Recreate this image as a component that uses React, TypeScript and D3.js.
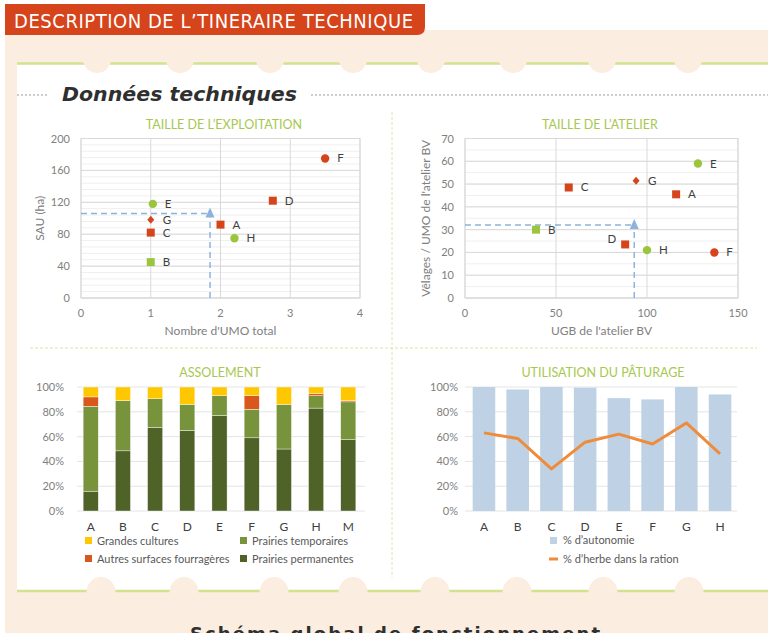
import React from 'react';
import * as d3 from 'd3';

// ---- data ----
const farms = ['A', 'B', 'C', 'D', 'E', 'F', 'G', 'H'];

// Taille de l'exploitation
const umoTotal = [2.0, 1.0, 1.0, 2.75, 1.03, 3.5, 1.0, 2.2];
const sauHa = [92, 45, 82, 122, 118, 175, 98, 75];
const exploitRef = [1.85, 106];

// Taille de l'atelier
const ugbAtelier = [116, 39, 57, 88, 128, 137, 94, 100];
const velagesUmo = [45.5, 30, 48.5, 23.5, 59, 20, 51.5, 21];
const atelierRef = [93, 32];

// Assolement (%)
const assolCats = ['A', 'B', 'C', 'D', 'E', 'F', 'G', 'H', 'M'];
const prairiesPermanentes = [16, 48.5, 67.5, 65, 77, 59, 50, 83, 57.5];
const prairiesTemporaires = [68.5, 40.5, 23, 21, 16, 23, 36, 10, 30.5];
const autresSurfaces = [7.5, 0, 0, 0, 0, 11, 0, 1.5, 1];
const grandesCultures = [8, 11, 9.5, 14, 7, 7, 14, 5.5, 11];

// Utilisation du pâturage (%)
const paturageCats = ['A', 'B', 'C', 'D', 'E', 'F', 'G', 'H'];
const autonomie = [100, 98, 100, 99.5, 91, 90, 100, 94];
const herbeRation = [63, 58.5, 34, 55.5, 62, 54, 71, 46];

const pctTicks = [0, 20, 40, 60, 80, 100];

// ---- styles ----
const RED = '#d6441b';
const GREEN = '#9bc53d';
const BEIGE = '#fbeee0';
const LINE_GREEN = '#d2e290';
const TITLE_GREEN = '#a7c84f';
const AXIS_TXT = '#808080';
const FONT = 'Lato, "Open Sans", sans-serif';

const markerStyle: Record<string, { shape: string; color: string }> = {
  A: { shape: 'square', color: RED },
  B: { shape: 'square', color: GREEN },
  C: { shape: 'square', color: RED },
  D: { shape: 'square', color: RED },
  E: { shape: 'circle', color: GREEN },
  F: { shape: 'circle', color: RED },
  G: { shape: 'diamond', color: RED },
  H: { shape: 'circle', color: GREEN },
};

const topBumps = [97, 180, 270, 353, 431, 513, 602, 688];
const bottomBumps = [101, 184, 274, 353, 435, 517, 603, 689];

function Marker({ shape, color, x, y }: { shape: string; color: string; x: number; y: number }) {
  if (shape === 'circle') return <circle cx={x} cy={y} r={4.2} fill={color} />;
  if (shape === 'diamond')
    return <path d={`M${x},${y - 4}L${x + 3.5},${y}L${x},${y + 4}L${x - 3.5},${y}Z`} fill={color} />;
  return <rect x={x - 4} y={y - 4} width={8} height={8} fill={color} />;
}

type ScatterProps = {
  title: string;
  titleX: number;
  xs: number[];
  ys: number[];
  xDomain: [number, number];
  yDomain: [number, number];
  xTicks: number[];
  yTicks: number[];
  minorStep: number;
  x0: number;
  x1: number;
  xLabel: string;
  yLabel: string;
  yLabelX: number;
  ref2: number[];
  leftLabels?: string[];
};

function Scatter(p: ScatterProps) {
  const x = d3.scaleLinear().domain(p.xDomain).range([p.x0, p.x1]);
  const y = d3.scaleLinear().domain(p.yDomain).range([298, 138.5]);
  const minor = d3.range(p.yDomain[0], p.yDomain[1] + 0.001, p.minorStep);
  const [rx, ry] = p.ref2;
  const arrowColor = '#8db3dc';
  return (
    <g fontFamily={FONT}>
      <text x={p.titleX} y={129} textAnchor="middle" fontSize={12.5} fill={TITLE_GREEN}>{p.title}</text>
      {minor.map((v) => (
        <line key={'m' + v} x1={p.x0} x2={p.x1} y1={y(v)} y2={y(v)} stroke="#efefef" />
      ))}
      {p.yTicks.map((v) => (
        <line key={'y' + v} x1={p.x0} x2={p.x1} y1={y(v)} y2={y(v)} stroke="#d9d9d9" />
      ))}
      {p.xTicks.map((v) => (
        <line key={'x' + v} x1={x(v)} x2={x(v)} y1={y(p.yDomain[0])} y2={y(p.yDomain[1])} stroke="#d9d9d9" />
      ))}
      <rect x={p.x0} y={y(p.yDomain[1])} width={p.x1 - p.x0} height={y(p.yDomain[0]) - y(p.yDomain[1])} fill="none" stroke="#d9d9d9" />
      {p.yTicks.map((v) => (
        <text key={'yt' + v} x={p.x0 - 11} y={y(v) + 4} textAnchor="end" fontSize={11} fill={AXIS_TXT}>{v}</text>
      ))}
      {p.xTicks.map((v) => (
        <text key={'xt' + v} x={x(v)} y={317} textAnchor="middle" fontSize={11} fill={AXIS_TXT}>{v}</text>
      ))}
      <text x={(p.x0 + p.x1) / 2} y={335} textAnchor="middle" fontSize={12} fill={AXIS_TXT}>{p.xLabel}</text>
      <text transform={`translate(${p.yLabelX},${(y(p.yDomain[0]) + y(p.yDomain[1])) / 2}) rotate(-90)`} textAnchor="middle" fontSize={12} fill={AXIS_TXT}>{p.yLabel}</text>
      {/* reference arrow */}
      <g stroke={arrowColor} strokeWidth={1.5} strokeDasharray="6,4" fill="none">
        <line x1={x(p.xDomain[0])} x2={x(rx)} y1={y(ry)} y2={y(ry)} />
        <line x1={x(rx)} x2={x(rx)} y1={y(p.yDomain[0])} y2={y(ry) + 4} />
      </g>
      <path d={`M${x(rx)},${y(ry) - 6}L${x(rx) + 4.5},${y(ry) + 4}L${x(rx) - 4.5},${y(ry) + 4}Z`} fill={arrowColor} />
      {farms.map((f, i) => {
        const s = markerStyle[f];
        const cx = x(p.xs[i]);
        const cy = y(p.ys[i]);
        const left = p.leftLabels && p.leftLabels.includes(f);
        return (
          <g key={f}>
            <Marker shape={s.shape} color={s.color} x={cx} y={cy} />
            <text x={left ? cx - 9 : cx + 12} y={left ? cy - 1 : cy + 4} textAnchor={left ? 'end' : 'start'} fontSize={11.5} fill="#404040">{f}</text>
          </g>
        );
      })}
    </g>
  );
}

function Assolement() {
  const x = d3.scaleBand().domain(assolCats).range([74.6, 364.4]).paddingInner(0.53).paddingOuter(0.265);
  const y = d3.scaleLinear().domain([0, 100]).range([511, 387]);
  const keys = ['perm', 'temp', 'autres', 'gc'];
  const rows = assolCats.map((c, i) => ({
    cat: c,
    perm: prairiesPermanentes[i],
    temp: prairiesTemporaires[i],
    autres: autresSurfaces[i],
    gc: grandesCultures[i],
  }));
  const series = d3.stack<any>().keys(keys)(rows);
  const colors: Record<string, string> = { perm: '#4f6228', temp: '#77933c', autres: '#d9571b', gc: '#ffc700' };
  const legend = [
    { label: 'Grandes cultures', color: colors.gc, x: 85, y: 541 },
    { label: 'Prairies temporaires', color: colors.temp, x: 240, y: 541 },
    { label: 'Autres surfaces fourragères', color: colors.autres, x: 85, y: 559 },
    { label: 'Prairies permanentes', color: colors.perm, x: 240, y: 559 },
  ];
  return (
    <g fontFamily={FONT}>
      <text x={220} y={377} textAnchor="middle" fontSize={12.5} fill={TITLE_GREEN}>ASSOLEMENT</text>
      {pctTicks.map((v) => (
        <g key={v}>
          <line x1={77} x2={365} y1={y(v)} y2={y(v)} stroke="#e4e4e4" />
          <text x={64} y={y(v) + 4} textAnchor="end" fontSize={11} fill={AXIS_TXT}>{v}%</text>
        </g>
      ))}
      {series.map((s) => (
        <g key={s.key} fill={colors[s.key]}>
          {s.map((d: any) => (
            <rect key={d.data.cat} x={x(d.data.cat)} width={x.bandwidth()} y={y(d[1])} height={Math.max(0, y(d[0]) - y(d[1]))} stroke="#fff" strokeWidth={0.4} />
          ))}
        </g>
      ))}
      {assolCats.map((c) => (
        <text key={c} x={(x(c) as number) + x.bandwidth() / 2} y={531} textAnchor="middle" fontSize={12} fill="#404040">{c}</text>
      ))}
      {legend.map((l) => (
        <g key={l.label}>
          <rect x={l.x} y={l.y - 4} width={7} height={7} fill={l.color} />
          <text x={l.x + 12} y={l.y + 3.5} fontSize={11} fill="#595959">{l.label}</text>
        </g>
      ))}
    </g>
  );
}

function Paturage() {
  const x = d3.scaleBand().domain(paturageCats).range([467.1, 736.9]).paddingInner(0.33).paddingOuter(0.165);
  const y = d3.scaleLinear().domain([0, 100]).range([511, 387]);
  const line = d3
    .line<number>()
    .x((_, i) => (x(paturageCats[i]) as number) + x.bandwidth() / 2)
    .y((d) => y(d));
  return (
    <g fontFamily={FONT}>
      <text x={603} y={377} textAnchor="middle" fontSize={12.5} fill={TITLE_GREEN}>UTILISATION DU PÂTURAGE</text>
      {pctTicks.map((v) => (
        <g key={v}>
          <line x1={465} x2={737} y1={y(v)} y2={y(v)} stroke="#e4e4e4" />
          <text x={458} y={y(v) + 4} textAnchor="end" fontSize={11} fill={AXIS_TXT}>{v}%</text>
        </g>
      ))}
      {paturageCats.map((c, i) => (
        <rect key={c} x={x(c)} width={x.bandwidth()} y={y(autonomie[i])} height={y(0) - y(autonomie[i])} fill="#bfd2e5" />
      ))}
      <path d={line(herbeRation) || ''} fill="none" stroke="#ee8c3b" strokeWidth={3} strokeLinejoin="round" />
      {paturageCats.map((c) => (
        <text key={c} x={(x(c) as number) + x.bandwidth() / 2} y={531} textAnchor="middle" fontSize={12} fill="#404040">{c}</text>
      ))}
      <rect x={550} y={537} width={7} height={7} fill="#bfd2e5" />
      <text x={563} y={544} fontSize={11} fill="#595959">% d’autonomie</text>
      <line x1={549} x2={558} y1={559} y2={559} stroke="#ee8c3b" strokeWidth={3} />
      <text x={563} y={562.5} fontSize={11} fill="#595959">% d’herbe dans la ration</text>
    </g>
  );
}

export default function App() {
  return (
    <svg width={768} height={633} viewBox="0 0 768 633" style={{ position: 'fixed', left: 0, top: 0, background: '#fff' }}>
      {/* background frame */}
      <rect x={5} y={30} width={763} height={603} fill={BEIGE} />
      <path d="M5,4H425V27Q425,35 417,35H5Z" fill={RED} />
      <text x={14} y={28} fontFamily='"Liberation Sans Narrow", "DejaVu Sans Condensed", sans-serif' fontSize={20} fill="#fff" textLength={399} lengthAdjust="spacing">
        DESCRIPTION DE L’TINERAIRE TECHNIQUE
      </text>
      <rect x={17} y={63} width={751} height={528} fill="#fff" />
      <line x1={17} x2={768} y1={63.5} y2={63.5} stroke={LINE_GREEN} strokeWidth={2.5} />
      <line x1={17} x2={768} y1={591} y2={591} stroke={LINE_GREEN} strokeWidth={2.5} />
      {topBumps.map((bx) => (
        <circle key={'t' + bx} cx={bx} cy={59} r={14} fill={BEIGE} />
      ))}
      {bottomBumps.map((bx) => (
        <ellipse key={'b' + bx} cx={bx} cy={592} rx={14.5} ry={15} fill={BEIGE} />
      ))}

      {/* section title */}
      <line x1={17} x2={49} y1={95} y2={95} stroke="#9a9a9a" strokeDasharray="2,2" />
      <line x1={311} x2={768} y1={95} y2={95} stroke="#9a9a9a" strokeDasharray="2,2" />
      <text x={62} y={101} fontFamily='"DejaVu Sans", sans-serif' fontStyle="italic" fontWeight="bold" fontSize={19} fill="#2f2f2f" textLength={235} lengthAdjust="spacingAndGlyphs">
        Données techniques
      </text>

      {/* dividers */}
      <line x1={392} x2={392} y1={112} y2={578} stroke="#dfe6a6" strokeDasharray="3,2" />
      <line x1={30} x2={757} y1={348} y2={348} stroke="#dfe6a6" strokeDasharray="3,2" strokeWidth={1.2} />

      <Scatter
        title="TAILLE DE L’EXPLOITATION"
        titleX={224}
        xs={umoTotal}
        ys={sauHa}
        xDomain={[0, 4]}
        yDomain={[0, 200]}
        xTicks={[0, 1, 2, 3, 4]}
        yTicks={[0, 40, 80, 120, 160, 200]}
        minorStep={8}
        x0={81}
        x1={360}
        xLabel="Nombre d'UMO total"
        yLabel="SAU (ha)"
        yLabelX={44}
        ref2={exploitRef}
      />
      <Scatter
        title="TAILLE DE L’ATELIER"
        titleX={600}
        xs={ugbAtelier}
        ys={velagesUmo}
        xDomain={[0, 150]}
        yDomain={[0, 70]}
        xTicks={[0, 50, 100, 150]}
        yTicks={[0, 10, 20, 30, 40, 50, 60, 70]}
        minorStep={5}
        x0={465}
        x1={738}
        xLabel="UGB de l'atelier BV"
        yLabel="Vêlages / UMO de l'atelier BV"
        yLabelX={430}
        ref2={atelierRef}
        leftLabels={['D']}
      />
      <Assolement />
      <Paturage />

      <text x={190} y={640} fontFamily='"DejaVu Sans", sans-serif' fontWeight="bold" fontSize={18} fill="#2f2f2f" textLength={410} lengthAdjust="spacing">
        Schéma global de fonctionnement
      </text>
    </svg>
  );
}
